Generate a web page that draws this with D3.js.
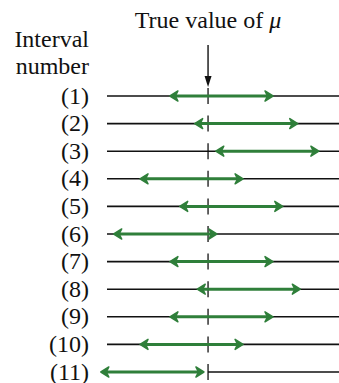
<!DOCTYPE html>
<html>
<head>
<meta charset="utf-8">
<script src="https://cdn.jsdelivr.net/npm/d3@7"></script>
</head>
<body style="margin:0">
<svg id="chart" width="339" height="383"></svg>
<script>
// Interval labels, sample means (mu = 0) and margin of error
let labels = ["(1)", "(2)", "(3)", "(4)", "(5)", "(6)", "(7)", "(8)", "(9)", "(10)", "(11)"];
let centers = [0.26, 0.74, 1.15, -0.32, 0.45, -0.83, 0.26, 0.79, 0.26, -0.32, -1.08];
let margin = 1.0;
let mu = 0;

let green = "#2f7f3a";

let svg = d3.select("#chart");

// Scales
let x = d3.scaleLinear()
    .domain([-1.96, 2.54])
    .range([107, 339]);
let y = d3.scalePoint()
    .domain(labels)
    .range([96, 372]);

function label(sel) {
    return sel.attr("font-size", 24)
        .style("font-family", "'Liberation Serif'")
        .attr("fill", "#111");
}

// Headings
let title = label(svg.append("text"))
    .attr("x", x(mu))
    .attr("y", 28)
    .attr("text-anchor", "middle");
title.append("tspan").text("True value of ");
title.append("tspan").attr("font-style", "italic").text("μ");

label(svg.append("text"))
    .attr("x", 89)
    .attr("y", 47)
    .attr("text-anchor", "end")
    .text("Interval");
label(svg.append("text"))
    .attr("x", 89)
    .attr("y", 74)
    .attr("text-anchor", "end")
    .text("number");

// Arrow pointing down at mu
svg.append("line")
    .attr("x1", x(mu)).attr("x2", x(mu))
    .attr("y1", 45).attr("y2", 78)
    .attr("stroke", "#111")
    .attr("stroke-width", 1.4);
svg.append("path")
    .attr("d", d3.line()([[x(mu) - 3.5, 76], [x(mu) + 3.5, 76], [x(mu), 87]]))
    .attr("fill", "#111");

let rows = svg.selectAll("g.row")
    .data(labels.map((l, i) => ({label: l, c: centers[i]})))
    .join("g")
    .attr("class", "row")
    .attr("transform", d => "translate(0," + y(d.label) + ")");

// Row labels
label(rows.append("text"))
    .attr("x", 89)
    .attr("y", 7.5)
    .attr("text-anchor", "end")
    .text(d => d.label);

// Black baseline
rows.append("line")
    .attr("x1", (d, i) => i === labels.length - 1 ? x(mu) : x.range()[0])
    .attr("x2", x.range()[1])
    .attr("stroke", "#111")
    .attr("stroke-width", 1.6);

// Tick at mu
rows.append("line")
    .attr("x1", x(mu)).attr("x2", x(mu))
    .attr("y1", -8).attr("y2", 8)
    .attr("stroke", "#111")
    .attr("stroke-width", 1.3);

// Green interval
rows.append("line")
    .attr("x1", d => x(d.c - margin) + 4)
    .attr("x2", d => x(d.c + margin) - 4)
    .attr("stroke", green)
    .attr("stroke-width", 3);

// Arrowheads (tip at the interval end)
function head(tip, dir) {
    return d3.line()([
        [tip, 0],
        [tip - dir * 8, -5],
        [tip - dir * 5.5, 0],
        [tip - dir * 8, 5]
    ]) + "Z";
}
rows.append("path")
    .attr("d", d => head(x(d.c - margin), -1))
    .attr("fill", green)
    .attr("stroke", green)
    .attr("stroke-width", 1.5)
    .attr("stroke-linejoin", "round");
rows.append("path")
    .attr("d", d => head(x(d.c + margin), 1))
    .attr("fill", green)
    .attr("stroke", green)
    .attr("stroke-width", 1.5)
    .attr("stroke-linejoin", "round");
</script>
</body>
</html>
